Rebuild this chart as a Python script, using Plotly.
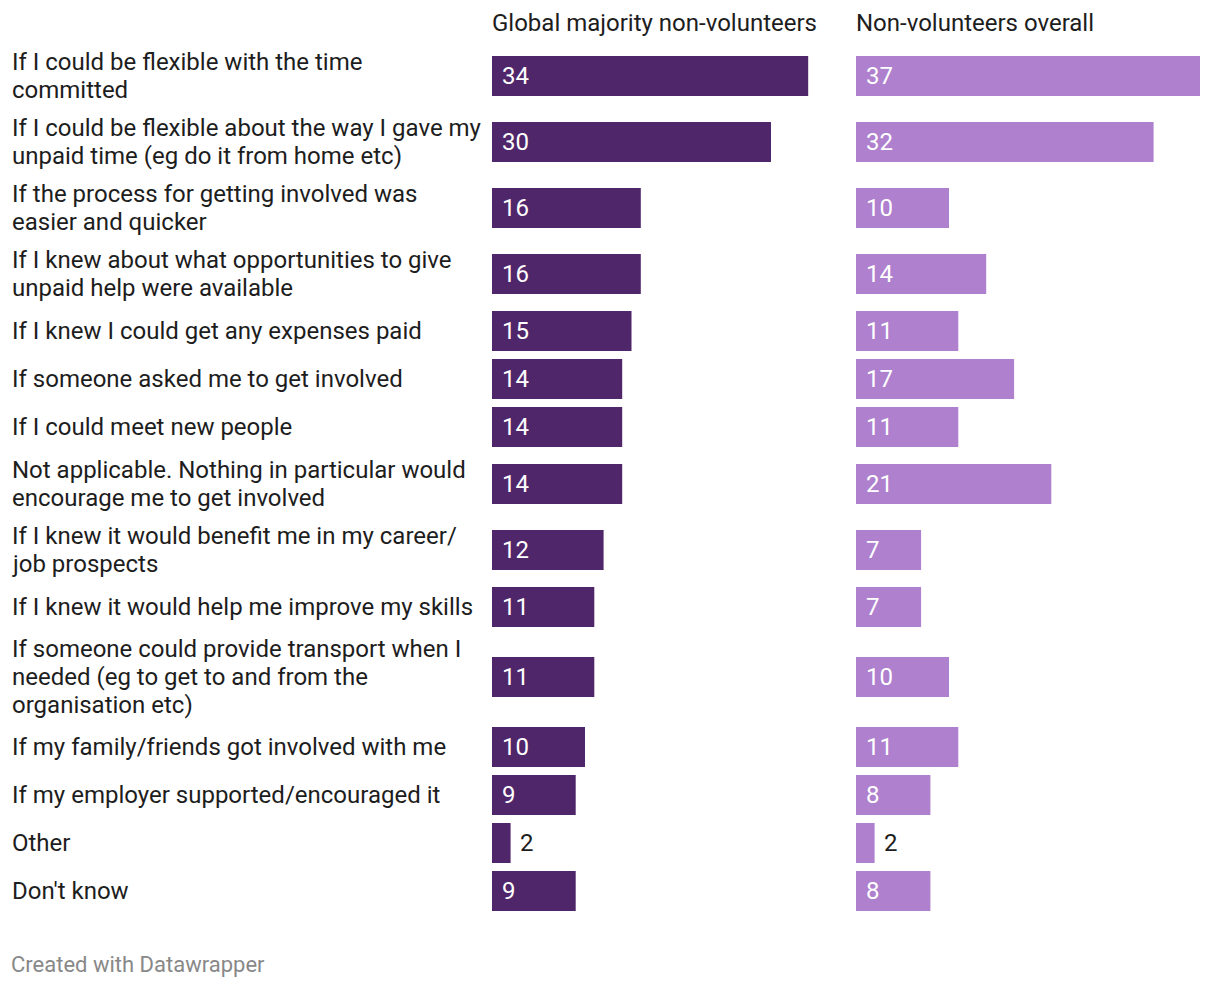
import plotly.graph_objects as go

# ---- data ----
categories = [
    "If I could be flexible with the time<br>committed",
    "If I could be flexible about the way I gave my<br>unpaid time (eg do it from home etc)",
    "If the process for getting involved was<br>easier and quicker",
    "If I knew about what opportunities to give<br>unpaid help were available",
    "If I knew I could get any expenses paid",
    "If someone asked me to get involved",
    "If I could meet new people",
    "Not applicable. Nothing in particular would<br>encourage me to get involved",
    "If I knew it would benefit me in my career/<br>job prospects",
    "If I knew it would help me improve my skills",
    "If someone could provide transport when I<br>needed (eg to get to and from the<br>organisation etc)",
    "If my family/friends got involved with me",
    "If my employer supported/encouraged it",
    "Other",
    "Don't know",
]
global_majority = [34, 30, 16, 16, 15, 14, 14, 14, 12, 11, 11, 10, 9, 2, 9]
overall = [37, 32, 10, 14, 11, 17, 11, 21, 7, 7, 10, 11, 8, 2, 8]
series_names = ["Global majority non-volunteers", "Non-volunteers overall"]
footer = "Created with Datawrapper"

# ---- styling / layout ----
OFF = 8            # page body margin
W, H = 1204, 972   # figure size
FONT = "Roboto"
TEXT_COLOR = "#1d1d1d"
COLORS = ["#50266b", "#ae80ce"]
LINE_H = 28
BAR_H = 40
PX_PER_UNIT = 9.3
XMAX = 37
col_left = [492, 856]
FS = 24


def px(p):
    """page x pixel -> paper fraction"""
    return (p - OFF) / W


# compute row centers from number of label lines
centers = []
y = 43
for lab in categories:
    n = lab.count("<br>") + 1
    h = max(48, 26 * n + 14)
    centers.append(y + h / 2)
    y += h

fig = go.Figure()
annotations = []
for i, (vals, name) in enumerate(zip([global_majority, overall], series_names)):
    xa = "x" if i == 0 else "x2"
    fig.add_trace(go.Bar(
        x=vals, y=centers, orientation="h", width=BAR_H,
        marker=dict(color=COLORS[i], line=dict(width=0)),
        xaxis=xa, yaxis="y", hoverinfo="skip", showlegend=False, name=name,
    ))
    for v, c in zip(vals, centers):
        inside = v * PX_PER_UNIT > 40
        annotations.append(dict(
            x=0 if inside else v, y=c, xref=xa, yref="y",
            text=str(v), showarrow=False, xanchor="left", yanchor="middle",
            xshift=8 if inside else 7,
            font=dict(family=FONT, size=FS,
                      color="#ffffff" if inside else TEXT_COLOR),
        ))
    annotations.append(dict(
        x=px(col_left[i] - 2), y=23, xref="paper", yref="y", text=name,
        showarrow=False, xanchor="left", yanchor="middle",
        font=dict(family=FONT, size=FS, color=TEXT_COLOR),
    ))

for lab, c in zip(categories, centers):
    lines = lab.split("<br>")
    n = len(lines)
    for k, ln in enumerate(lines):
        annotations.append(dict(
            x=px(10), y=c + (k - (n - 1) / 2) * LINE_H, xref="paper", yref="y",
            text=ln, showarrow=False, xanchor="left", yanchor="middle",
            font=dict(family=FONT, size=FS, color=TEXT_COLOR),
        ))

annotations.append(dict(
    x=px(9), y=964, xref="paper", yref="y", text=footer,
    showarrow=False, xanchor="left", yanchor="middle",
    font=dict(family=FONT, size=22, color="#888888"),
))


def xaxis_cfg(left):
    return dict(domain=[px(left), px(left + PX_PER_UNIT * XMAX)], range=[0, XMAX],
                visible=False, fixedrange=True)


fig.update_layout(
    width=W, height=H,
    margin=dict(l=0, r=0, t=0, b=0),
    paper_bgcolor="white", plot_bgcolor="white",
    xaxis=xaxis_cfg(col_left[0]),
    xaxis2=xaxis_cfg(col_left[1]),
    yaxis=dict(range=[H + OFF, OFF], domain=[0, 1], visible=False, fixedrange=True),
    annotations=annotations,
    font=dict(family=FONT),
)

fig.write_html("out.html", config={"displayModeBar": False})
